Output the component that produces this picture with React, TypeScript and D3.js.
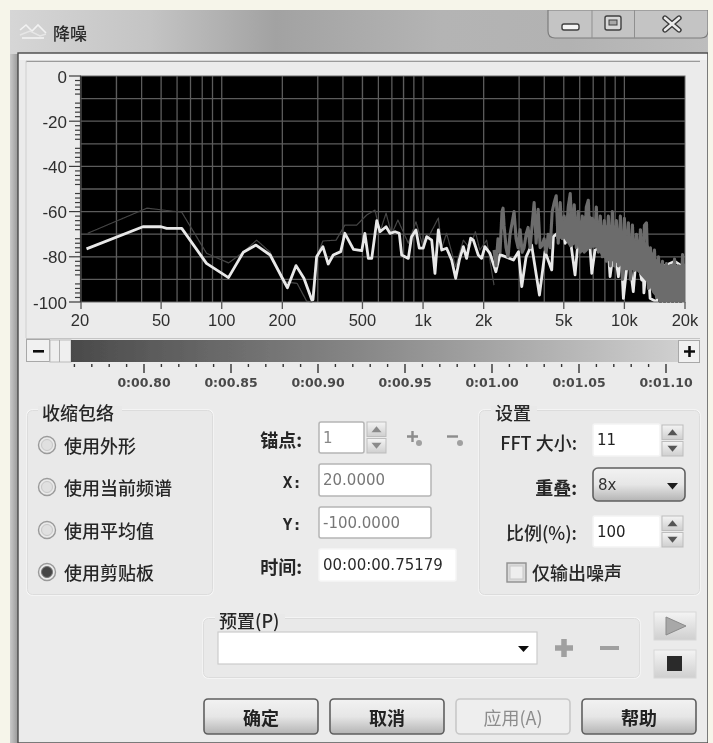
import React from "react";
import * as d3 from "d3";

const W = 713, H = 743;

// ---- chart data (Hz, dB) ----
const envelopeHz = [21.3,40.6,50,53.3,63.3,84,108,128,148,174,212,234,256,280,284,296,318,338,358,390,409,451,496,514,535,556,589,611,655,685,726,762,783,845,877,922,958,1002,1042,1104,1146,1191,1238,1309,1387,1452,1514,1585,1645,1723,1778,1880,1955,2028,2150,2300,2410,2812,2978,3092,3250,3460,3785,4035,4356,4440,4980,5082,5334,5688,5900,6700,6888,7146,8300,8490,8900,9340,9600,9886,10470,11070,11500,12190,12350,12500,13000,13420,14500,15000,17800,20000];
const envelopeDb = [-76.5,-66.7,-66.7,-67.4,-67.4,-82.9,-89.2,-78,-74.8,-79.2,-93.7,-83.9,-89.5,-99,-99,-80,-75.5,-83.2,-79.2,-77.7,-69.6,-76.7,-77.3,-69.6,-80.7,-80.7,-64,-68.9,-66.7,-69.6,-68.9,-69.6,-79.2,-80.7,-71.1,-68.1,-76.2,-76.2,-71.1,-72.6,-87.3,-68.1,-77,-76.2,-81.4,-89.5,-81.4,-75.5,-80.7,-71.8,-72.6,-79.2,-80.7,-75.5,-78.5,-86.6,-79,-81.4,-77.7,-93.2,-80,-74.8,-96.9,-77.7,-85.8,-71.1,-67.4,-74,-69.6,-88,-72,-72,-87.3,-77,-75,-88.8,-75,-88.8,-75,-98.4,-78,-95.4,-78,-90.3,-78,-96,-80,-98.4,-100,-85,-82,-85];

const spectrumLowHz = [21.6,42.4,51,63.3,84,108,128,149,174,201,237,264,280,296,318,370,409,468,525,577,611,655,698,750,845,922,1002,1191,1238,1309,1452,1585,1700,1820,1915,2070,2251];
const spectrumLowDb = [-69.6,-58.5,-59.3,-60.3,-78.4,-82.7,-78,-72.6,-78,-91,-91.8,-99.6,-100,-80,-73,-72.6,-66,-66,-61.5,-59.3,-69,-60.7,-70,-63.7,-74,-64.5,-75.8,-62.8,-76,-69.6,-84.4,-72.6,-76,-68.9,-77,-72.6,-92.5];

const spectrumHighHz = [2251,2303,2357,2411,2467,2496,2525,2583,2643,2705,2767,2832,2897,2965,3033,3104,3176,3250,3325,3402,3481,3562,3645,3730,3816,3905,3995,4088,4183,4280,4379,4481,4585,4691,4800,4911,5025,5142,5261,5383,5508,5636,5767,5901,6038,6178,6321,6468,6618,6771,6929,7089,7254,7422,7594,7770,7951,8135,8324,8517,8715,8917,9124,9336,9552,9774,10000,10232,10470,10713,10961,11216,11476,11743,12015,12294,12580,12872,13170,13476,13789,14109,14437,14772,15115,15466,15825,16192,16568,16953,17347,17749,18161,18583,19014,19456,19907];
const spectrumHighDb = [-77,-84,-72,-78,-60,-58.5,-66,-76,-80,-70,-65,-60,-72,-76,-68,-78,-76,-70,-67,-76,-66,-56,-74,-59,-76,-75,-72,-78,-70,-76,-60,-56,-53,-74,-56,-72,-62,-70,-58,-52,-72,-57,-76,-60,-78,-62,-78,-58,-55,-76,-63,-74,-58,-78,-62,-80,-64,-82,-62,-84,-60,-84,-64,-84,-62,-90,-63,-82,-65,-90,-66,-86,-70,-86,-68,-86,-66,-65,-94,-76,-92,-77,-98,-80,-100,-82,-100,-83,-100,-84,-100,-81,-100,-84,-100,-79,-100];

// the solid part of the high-frequency spectrum: upper and lower edge
const bandHz = [4585,5025,5383,5767,6038,6468,6771,7254,7770,8324,8917,9552,10000,10713,11476,12015,12580,13170,13789,14437,15115,16192,17347,18583,20000];
const bandTopDb = [-60,-64,-60,-63,-64,-61,-62,-64,-66,-66,-66,-68,-70,-71,-73,-72,-73,-75,-78,-81,-83,-84,-83,-84,-83];
const bandBottomDb = [-72,-72,-76,-74,-78,-78,-76,-76,-80,-82,-82,-84,-86,-86,-86,-88,-90,-92,-96,-98,-100,-100,-100,-100,-100];

const freqMajor = [20,50,100,200,500,1000,2000,5000,10000,20000];
const freqMajorLabels = ["20","50","100","200","500","1k","2k","5k","10k","20k"];
const freqGrid = [30,40,50,60,70,80,90,100,200,300,400,500,600,700,800,900,1000,2000,3000,4000,5000,6000,7000,8000,9000,10000];
const dbMajor = [0,-20,-40,-60,-80,-100];
const dbGrid = [-10,-20,-30,-40,-50,-60,-70,-80,-90];
const dbMinor = [-2,-4,-6,-8,-12,-14,-16,-18,-22,-24,-26,-28,-32,-34,-36,-38,-42,-44,-46,-48,-52,-54,-56,-58,-62,-64,-66,-68,-72,-74,-76,-78,-82,-84,-86,-88,-92,-94,-96,-98];
const timeMajor = [0.8,0.85,0.9,0.95,1.0,1.05,1.1];
const timeLabels = ["0:00.80","0:00.85","0:00.90","0:00.95","0:01.00","0:01.05","0:01.10"];
const timeMinor = [0.76,0.77,0.78,0.79,0.81,0.82,0.83,0.84,0.86,0.87,0.88,0.89,0.91,0.92,0.93,0.94,0.96,0.97,0.98,0.99,1.01,1.02,1.03,1.04,1.06,1.07,1.08,1.09];

const radioLabels = ["使用外形","使用当前频谱","使用平均值","使用剪贴板"];
const actionLabels = ["确定","取消","应用(A)","帮助"];

// ---- scales ----
const plot = { l: 81, r: 685, t: 76, b: 302 };
const xScale = d3.scaleLog().domain([20, 20000]).range([plot.l, plot.r]);
const yScale = d3.scaleLinear().domain([0, -100]).range([plot.t, plot.b]);
const tScale = d3.scaleLinear().domain([0.8, 1.1]).range([144, 666]);

const toPath = (hz: number[], db: number[]) =>
  d3.line<number>().x((f) => xScale(f)).y((_, i) => yScale(db[i]))(hz) || "";
const bandPath =
  d3.area<number>().x((f) => xScale(f)).y0((_, i) => yScale(bandBottomDb[i])).y1((_, i) => yScale(bandTopDb[i]))(bandHz) || "";

const CJK = '"Noto Sans CJK SC","Noto Sans",sans-serif';
const LAT = '"Liberation Sans",Arial,sans-serif';
const MONO = '"DejaVu Sans",sans-serif';
const INK = "#262626";

const T = ({ x, y, s = 18, a = "start", c = INK, w = 500, f = CJK, children }: any) => (
  <text x={x} y={y} fontSize={s} textAnchor={a} fill={c} fontWeight={w} fontFamily={f} dominantBaseline="central">{children}</text>
);

const Box = ({ x, y, w, h, title, tx, tw }: any) => (
  <g>
    <rect x={x} y={y} width={w} height={h} rx={5} fill="#e9e9e9" stroke="#f7f7f7" strokeWidth={1.4} />
    <rect x={x + 0.5} y={y + 0.5} width={w - 1} height={h - 1} rx={5} fill="none" stroke="#d6d6d6" strokeWidth={0.8} />
    <rect x={tx - 4} y={y - 4} width={tw + 8} height={8} fill="#e9e9e9" />
    <T x={tx} y={y + 2} s={18}>{title}</T>
  </g>
);

const Field = ({ x, y, w, h, text, c = "#333", border = "#b5b5b5", f = MONO, s = 15 }: any) => (
  <g>
    <rect x={x} y={y} width={w} height={h} rx={2} fill="#fff" stroke={border} strokeWidth={1.5} />
    {text && <T x={x + 4} y={y + h / 2} s={s} c={c} f={f} w={400}>{text}</T>}
  </g>
);

const Spin = ({ x, y, w, h, up = "#8a8a8a" }: any) => (
  <g>
    {[0, 1].map((i) => {
      const bh = h / 2 - 1;
      const by = y + i * (h / 2 + 1);
      const cx = x + w / 2;
      const cy = by + bh / 2;
      return (
        <g key={i}>
          <rect x={x} y={by} width={w} height={bh} fill="url(#btn)" stroke="#bdbdbd" />
          <path d={i === 0 ? `M${cx - 5},${cy + 3}L${cx + 5},${cy + 3}L${cx},${cy - 3}Z` : `M${cx - 5},${cy - 3}L${cx + 5},${cy - 3}L${cx},${cy + 3}Z`} fill={up} />
        </g>
      );
    })}
  </g>
);

const Radio = ({ cx, cy, on }: any) => (
  <g>
    <circle cx={cx} cy={cy} r={8.5} fill="url(#radio)" stroke="#9a9a9a" strokeWidth={1.4} />
    <circle cx={cx} cy={cy} r={5.5} fill={on ? "#444" : "#e0e0e0"} stroke={on ? "#777" : "#c8c8c8"} />
  </g>
);

const ActionBtn = ({ x, label, disabled }: any) => (
  <g>
    <rect x={x} y={699} width={114} height={35} rx={4} fill={disabled ? "#eeeeee" : "url(#btn2)"} stroke={disabled ? "#c8c8c8" : "#5f5f5f"} strokeWidth={1.6} />
    <T x={x + 57} y={717} a="middle" s={18} w={disabled ? 400 : 700} c={disabled ? "#8c8c8c" : "#222"}>{label}</T>
  </g>
);

export default function App() {
  return (
    <svg width={W} height={H} viewBox={`0 0 ${W} ${H}`} style={{ position: "fixed", left: 0, top: 0, display: "block" }}>
      <defs>
        <linearGradient id="title" x1="0" x2="1" y1="0" y2="0">
          <stop offset="0" stopColor="#d6d6d6" />
          <stop offset="0.2" stopColor="#c4c4c4" />
          <stop offset="0.38" stopColor="#a2a2a2" />
          <stop offset="0.62" stopColor="#b4b4b4" />
          <stop offset="0.8" stopColor="#b2b2b2" />
          <stop offset="1" stopColor="#bdbdbd" />
        </linearGradient>
        <linearGradient id="side" x1="0" x2="1" y1="0" y2="0">
          <stop offset="0" stopColor="#c9c9c9" />
          <stop offset="1" stopColor="#989898" />
        </linearGradient>
        <linearGradient id="bar" x1="0" x2="1" y1="0" y2="0">
          <stop offset="0" stopColor="#4a4a4a" />
          <stop offset="0.5" stopColor="#8a8a8a" />
          <stop offset="1" stopColor="#cfcfcf" />
        </linearGradient>
        <linearGradient id="btn" x1="0" x2="0" y1="0" y2="1">
          <stop offset="0" stopColor="#f4f4f4" />
          <stop offset="1" stopColor="#cfcfcf" />
        </linearGradient>
        <linearGradient id="btn2" x1="0" x2="0" y1="0" y2="1">
          <stop offset="0" stopColor="#f2f2f2" />
          <stop offset="0.5" stopColor="#e6e6e6" />
          <stop offset="1" stopColor="#b4b4b4" />
        </linearGradient>
        <radialGradient id="radio">
          <stop offset="0" stopColor="#cfcfcf" />
          <stop offset="1" stopColor="#f0f0f0" />
        </radialGradient>
        <filter id="soft" x="0" y="0" width="100%" height="100%">
          <feGaussianBlur stdDeviation="0.55" />
        </filter>
        <clipPath id="plotClip">
          <rect x={plot.l} y={plot.t} width={plot.r - plot.l} height={plot.b - plot.t + 1} />
        </clipPath>
      </defs>

      <rect width={W} height={H} fill="#f6f5ea" />
      <g filter="url(#soft)">
        {/* window frame */}
        <path d={`M10,13 Q10,10 13,10 L708,10 L708,${H} L10,${H} Z`} fill="#b4b4b4" />
        <rect x={10} y={10} width={698} height={44} fill="url(#title)" />
        <rect x={10} y={54} width={8} height={H - 54} fill="url(#side)" />
        <rect x={18} y={53} width={690} height={H - 53} fill="#ebebeb" stroke="#4a4a4a" strokeWidth={1.4} />
        <rect x={19} y={54} width={688} height={6} fill="#f3f3f3" />
        <line x1={26} x2={700} y1={61.5} y2={61.5} stroke="#9a9a9a" strokeWidth={1.4} />
        <line x1={26} x2={26} y1={61} y2={338} stroke="#cfcfcf" />
        <rect x={27} y={62} width={673} height={276} fill="#ebebeb" />
        <line x1={26} x2={700} y1={338.5} y2={338.5} stroke="#c4c4c4" />

        {/* title bar */}
        <path d="M20,30 L26,25 L32,31 L38,25 L46,33" fill="none" stroke="#f2f2f2" strokeWidth={1.6} />
        <path d="M20,35 L30,31 L40,36 L46,34" fill="none" stroke="#e6e6e6" strokeWidth={1.4} />
        <rect x={22} y={37} width={22} height={2} fill="#ececec" />
        <T x={53} y={32} s={17} c="#2a2a2a">降噪</T>
        <path d="M548,10 L548,31 Q548,38 555,38 L701,38 Q708,38 708,31 L708,10 Z" fill="#c4c4c4" stroke="#7d7d7d" strokeWidth={1.2} />
        <line x1={592} x2={592} y1={10} y2={38} stroke="#8f8f8f" />
        <line x1={634.5} x2={634.5} y1={10} y2={38} stroke="#8f8f8f" />
        <rect x={562} y={24} width={17} height={6} rx={2} fill="#f4f4f4" stroke="#3f3f3f" strokeWidth={1.4} />
        <rect x={605} y={16} width={16} height={14} rx={2} fill="#d8d8d8" stroke="#3f3f3f" strokeWidth={1.4} />
        <rect x={609} y={20} width={8} height={5} fill="#a8a8a8" stroke="#3f3f3f" />
        <path d="M665,18 L679,30 M679,18 L665,30" stroke="#3c3c3c" strokeWidth={5.4} strokeLinecap="round" />
        <path d="M665,18 L679,30 M679,18 L665,30" stroke="#ececec" strokeWidth={2.6} strokeLinecap="round" />

        {/* plot */}
        <rect x={plot.l} y={plot.t} width={plot.r - plot.l} height={plot.b - plot.t} fill="#000" />
        <g stroke="#5c5c5c" strokeWidth={1.3}>
          {freqGrid.map((f) => (
            <line key={f} x1={xScale(f)} x2={xScale(f)} y1={plot.t} y2={plot.b} />
          ))}
          {dbGrid.map((d) => (
            <line key={d} x1={plot.l} x2={plot.r} y1={yScale(d)} y2={yScale(d)} />
          ))}
        </g>
        <g clipPath="url(#plotClip)" fill="none" strokeLinejoin="round">
          <path d={toPath(spectrumLowHz, spectrumLowDb)} stroke="#464646" strokeWidth={1.2} />
          <path d={toPath(envelopeHz, envelopeDb)} stroke="#e8e8e8" strokeWidth={2.8} />
          <path d={toPath(spectrumHighHz, spectrumHighDb)} stroke="#6c6c6c" strokeWidth={3.1} />
          <path d={bandPath} fill="#6c6c6c" stroke="none" />
        </g>
        <rect x={plot.l} y={plot.t} width={plot.r - plot.l} height={plot.b - plot.t} fill="none" stroke="#6a6a6a" />

        {/* y axis */}
        <g stroke="#3a3a3a" strokeWidth={1.2}>
          <line x1={80.5} x2={80.5} y1={plot.t} y2={plot.b} />
          {dbMajor.map((d) => (
            <line key={d} x1={69} x2={81} y1={yScale(d)} y2={yScale(d)} />
          ))}
          {dbMinor.map((d) => (
            <line key={d} x1={75} x2={81} y1={yScale(d)} y2={yScale(d)} />
          ))}
        </g>
        {dbMajor.map((d) => (
          <T key={d} x={67} y={yScale(d) + 1} a="end" s={17} f={LAT} c="#2e2e2e" w={400}>{d}</T>
        ))}
        {/* x axis */}
        {freqMajor.map((f, i) => (
          <g key={f}>
            <line x1={xScale(f)} x2={xScale(f)} y1={plot.b} y2={309} stroke="#555" strokeWidth={1.3} />
            <T x={xScale(f) - (i === 0 ? 1 : 0)} y={320} a="middle" s={16.5} f={LAT} c="#2e2e2e" w={400}>{freqMajorLabels[i]}</T>
          </g>
        ))}

        {/* scroll bar */}
        <rect x={26.5} y={339.5} width={23} height={22} fill="#f1f1f1" stroke="#a8a8a8" />
        <rect x={33} y={350} width={11} height={2.6} fill="#111" />
        <rect x={50} y={340} width={21} height={22} fill="#efefef" stroke="#bbbbbb" />
        <line x1={59.5} x2={59.5} y1={340} y2={362} stroke="#b0b0b0" />
        <rect x={71} y={340} width={607} height={22} fill="url(#bar)" />
        <rect x={678.5} y={340.5} width={21} height={22} fill="#f1f1f1" stroke="#a8a8a8" />
        <path d="M684,351.5 H695 M689.5,346 V357" stroke="#111" strokeWidth={2.6} />
        {timeMinor.map((t) => (
          <line key={t} x1={tScale(t)} x2={tScale(t)} y1={364} y2={367} stroke="#333" strokeWidth={1.4} />
        ))}
        {timeMajor.map((t, i) => (
          <g key={t}>
            <line x1={tScale(t)} x2={tScale(t)} y1={364} y2={373} stroke="#333" strokeWidth={1.4} />
            <T x={tScale(t)} y={382} a="middle" s={12.5} f={MONO} w={700} c="#4a4a4a">{timeLabels[i]}</T>
          </g>
        ))}

        {/* envelope group */}
        <Box x={27} y={410} w={186} h={185} title="收缩包络" tx={42} tw={76} />
        {radioLabels.map((l, i) => (
          <g key={l}>
            <Radio cx={47} cy={[445, 487, 530, 572][i]} on={i === 3} />
            <T x={64} y={[445, 487, 530, 572][i]} s={18}>{l}</T>
          </g>
        ))}

        {/* middle fields */}
        <T x={302} y={439} a="end" s={18} w={700}>锚点:</T>
        <T x={302} y={482} a="end" s={16} w={700} f='"DejaVu Sans Mono",monospace'>X:</T>
        <T x={302} y={524} a="end" s={16} w={700} f='"DejaVu Sans Mono",monospace'>Y:</T>
        <T x={302} y={566} a="end" s={18} w={700}>时间:</T>
        <Field x={319} y={422} w={45} h={31} text="1" c="#888" />
        <Spin x={367} y={422} w={19} h={31} />
        <Field x={319} y={464} w={112} h={32} text="20.0000" c="#777" />
        <Field x={319} y={507} w={112} h={31} text="-100.0000" c="#777" />
        <Field x={319} y={549} w={137} h={32} text="00:00:00.75179" border="#f6f6f6" c="#2a2a2a" />
        <path d="M407,436.5 H418 M412.5,431 V442" stroke="#8c8c8c" strokeWidth={2.4} />
        <circle cx={419} cy={443} r={3} fill="#a0a0a0" />
        <path d="M447,436.5 H458" stroke="#8c8c8c" strokeWidth={2.4} />
        <circle cx={460} cy={443} r={3} fill="#a0a0a0" />

        {/* settings group */}
        <Box x={479} y={410} w={221} h={185} title="设置" tx={495} tw={38} />
        <T x={577} y={442} a="end" s={18}>FFT 大小:</T>
        <Field x={593} y={424} w={67} h={32} text="11" border="#f4f4f4" c="#222" />
        <Spin x={662} y={425} w={21} h={31} up="#555" />
        <T x={577} y={487} a="end" s={18} w={700}>重叠:</T>
        <rect x={593} y={468} width={92} height={33} rx={5} fill="url(#btn2)" stroke="#5f5f5f" strokeWidth={1.6} />
        <T x={598} y={485} s={15} f={MONO} c="#333" w={400}>8x</T>
        <path d="M667,483 L678,483 L672.5,489.5 Z" fill="#1a1a1a" />
        <T x={577} y={532} a="end" s={18}>比例(%):</T>
        <Field x={593} y={516} w={67} h={31} text="100" border="#f4f4f4" c="#222" />
        <Spin x={662} y={516} w={21} h={31} up="#555" />
        <rect x={507} y={563} width={19} height={19} fill="#dadada" stroke="#8f8f8f" strokeWidth={1.4} />
        <rect x={510} y={566} width={13} height={13} fill="#eeeeee" stroke="#c8c8c8" />
        <T x={532} y={572} s={18}>仅输出噪声</T>

        {/* preset group */}
        <Box x={203} y={618} w={437} h={60} title="预置(P)" tx={219} tw={62} />
        <rect x={218} y={632} width={319} height={32} fill="#fff" stroke="#cccccc" strokeWidth={1.2} />
        <path d="M518,646 L529,646 L523.5,652 Z" fill="#111" />
        <path d="M555,648 H573 M564,639 V657" stroke="#a0a0a0" strokeWidth={5.5} />
        <path d="M600,648 H619" stroke="#a0a0a0" strokeWidth={4} />
        <rect x={654} y={612} width={42} height={28} fill="url(#btn)" stroke="#d8d8d8" />
        <path d="M666,617 L686,626 L666,635 Z" fill="#a8a8a8" stroke="#8a8a8a" />
        <rect x={654} y={650} width={42} height={28} fill="url(#btn)" stroke="#d8d8d8" />
        <rect x={667} y={656} width={15} height={15} fill="#2a2a2a" />

        {/* action buttons */}
        {actionLabels.map((l, i) => (
          <ActionBtn key={l} x={204 + i * 126} label={l} disabled={i === 2} />
        ))}
      </g>
    </svg>
  );
}
